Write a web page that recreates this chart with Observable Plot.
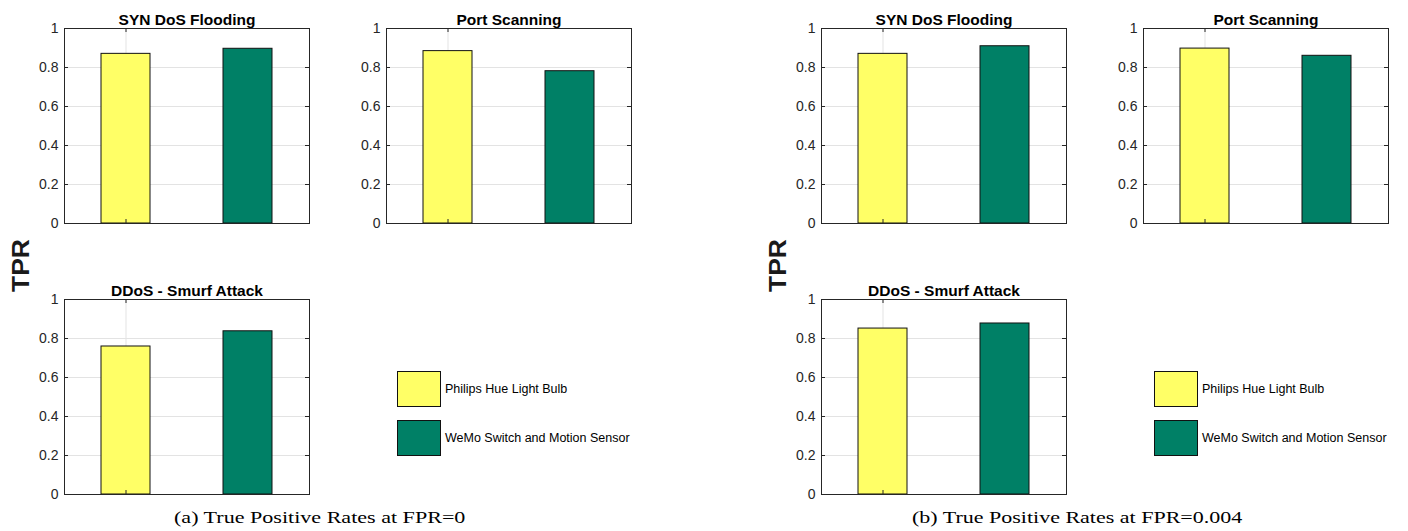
<!DOCTYPE html>
<html>
<head>
<meta charset="utf-8">
<script src="https://cdn.jsdelivr.net/npm/d3@7"></script>
<script src="https://cdn.jsdelivr.net/npm/@observablehq/plot@0.6"></script>
<style>
  body { margin: 0; background: #fff; }
  #root { position: relative; width: 1408px; height: 531px; overflow: hidden; font-family: "Liberation Sans", Arial, Helvetica, sans-serif; }
  .sub { position: absolute; }
  .tpr { position: absolute; font-weight: bold; font-size: 23px; color: #1a1a1a; white-space: nowrap; line-height: 1; }
  .cap { position: absolute; font-family: "Liberation Serif", "Times New Roman", serif; font-size: 16px; line-height: 16px; white-space: nowrap; color: #000; transform-origin: left center; }
  .leg { position: absolute; display: flex; align-items: center; font-size: 12.5px; color: #000; white-space: nowrap; }
  .sw { box-sizing: border-box; width: 44px; height: 36px; border: 1.3px solid #111; margin-right: 4px; }
</style>
</head>
<body>
<div id="root"></div>
<script>
// ---- data ----
const attacks = ["SYN DoS Flooding", "Port Scanning", "DDoS - Smurf Attack"];
const devices = ["Philips Hue Light Bulb", "WeMo Switch and Motion Sensor"];
const deviceColors = ["#ffff66", "#008066"];
const philipsFPR0 = [0.870, 0.884, 0.759];
const wemoFPR0 = [0.896, 0.781, 0.837];
const philipsFPR004 = [0.870, 0.897, 0.851];
const wemoFPR004 = [0.909, 0.860, 0.877];
const yTicks = [0, 0.2, 0.4, 0.6, 0.8, 1];
const yLabel = "TPR";
const panelCaptions = ["(a) True Positive Rates at FPR=0", "(b) True Positive Rates at FPR=0.004"];

// ---- layout ----
const root = document.getElementById("root");
const panels = [
  {philips: philipsFPR0, wemo: wemoFPR0, caption: panelCaptions[0], ox: 0, capWidth: 291},
  {philips: philipsFPR004, wemo: wemoFPR004, caption: panelCaptions[1], ox: 757, capWidth: 330}
];
const boxSlots = [{left: 64, top: 28}, {left: 386, top: 28}, {left: 64, top: 298.5}];
const ML = 40, MR = 6, MT = 28, MB = 6, BW = 245, BH = 195, TK = 4;

function subplot(title, values) {
  const data = devices.map((d, i) => ({device: d, tpr: values[i]}));
  return Plot.plot({
    width: ML + BW + MR,
    height: MT + BH + MB,
    marginLeft: ML, marginRight: MR, marginTop: MT, marginBottom: MB,
    style: {fontFamily: '"Liberation Sans", Arial, Helvetica, sans-serif', fontSize: "14px", color: "#262626", background: "transparent", overflow: "visible"},
    x: {type: "band", domain: devices, paddingInner: 0.6, paddingOuter: 0.3, axis: null},
    y: {domain: [0, 1], ticks: 5, tickFormat: d => String(d), tickSize: 0, tickPadding: 6, line: false, label: null},
    color: {domain: devices, range: deviceColors},
    marks: [
      Plot.ruleY(yTicks, {y: d => d, stroke: "#e3e3e3"}),
      Plot.ruleX([devices[0]], {x: d => d, stroke: "#e3e3e3"}),
      Plot.barY(data, {x: "device", y: "tpr", fill: "device", stroke: "#111", strokeWidth: 1}),
      Plot.frame({stroke: "#262626"}),
      Plot.tickY(yTicks, {y: d => d, insetRight: BW - TK, stroke: "#262626"}),
      Plot.tickY(yTicks, {y: d => d, insetLeft: BW - TK, stroke: "#262626"}),
      Plot.ruleX([devices[0]], {x: d => d, insetTop: BH - TK, stroke: "#262626"}),
      Plot.ruleX([devices[0]], {x: d => d, insetBottom: BH - TK, stroke: "#262626"}),
      Plot.text([title], {frameAnchor: "top", dy: -4, lineAnchor: "bottom", fontWeight: "bold", fontSize: 15.5, fill: "#000"})
    ]
  });
}

panels.forEach(p => {
  attacks.forEach((a, i) => {
    const svg = subplot(a, [p.philips[i], p.wemo[i]]);
    const wrap = document.createElement("div");
    wrap.className = "sub";
    wrap.style.left = (p.ox + boxSlots[i].left - ML) + "px";
    wrap.style.top = (boxSlots[i].top - MT) + "px";
    wrap.appendChild(svg);
    root.appendChild(wrap);
  });

  // y label
  const t = document.createElement("div");
  t.className = "tpr";
  t.textContent = yLabel;
  root.appendChild(t);
  const tw = t.offsetWidth, th = t.offsetHeight;
  t.style.left = (p.ox + 20.5 - tw / 2) + "px";
  t.style.top = (265 - th / 2) + "px";
  t.style.transform = "rotate(-90deg) scaleX(1.15)";

  // legend
  devices.forEach((d, i) => {
    const it = document.createElement("div");
    it.className = "leg";
    it.style.left = (p.ox + 397) + "px";
    it.style.top = (371 + i * 49) + "px";
    const sw = document.createElement("div");
    sw.className = "sw";
    sw.style.background = deviceColors[i];
    const tx = document.createElement("span");
    tx.textContent = d;
    it.appendChild(sw);
    it.appendChild(tx);
    root.appendChild(it);
  });

  // caption
  const c = document.createElement("div");
  c.className = "cap";
  c.textContent = p.caption;
  root.appendChild(c);
  const cw = c.offsetWidth;
  const sx = p.capWidth / cw;
  const center = p.ox + 319.5;
  c.style.left = (center - p.capWidth / 2) + "px";
  c.style.top = "510px";
  c.style.transform = `scaleX(${sx})`;
});
</script>
</body>
</html>
